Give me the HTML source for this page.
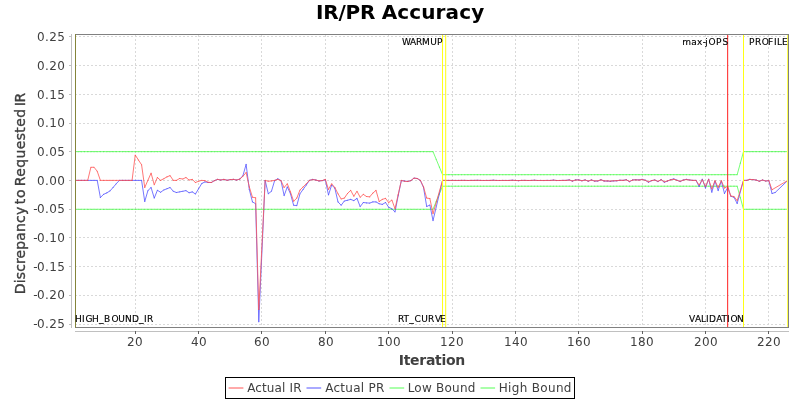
<!DOCTYPE html>
<html><head><meta charset="utf-8"><title>IR/PR Accuracy</title>
<style>html,body{margin:0;padding:0;background:#fff;width:800px;height:400px;overflow:hidden}</style></head>
<body>
<svg width="800" height="400" viewBox="0 0 800 400" style="position:absolute;left:0;top:0;display:block">
<rect x="0" y="0" width="800" height="400" fill="#ffffff"/>
<g stroke="#c0c0c0" stroke-width="1" stroke-dasharray="2,2" shape-rendering="crispEdges" opacity="0.6"><line x1="75.0" y1="324.5" x2="788.0" y2="324.5"/><line x1="75.0" y1="295.5" x2="788.0" y2="295.5"/><line x1="75.0" y1="266.5" x2="788.0" y2="266.5"/><line x1="75.0" y1="237.5" x2="788.0" y2="237.5"/><line x1="75.0" y1="209.5" x2="788.0" y2="209.5"/><line x1="75.0" y1="180.5" x2="788.0" y2="180.5"/><line x1="75.0" y1="151.5" x2="788.0" y2="151.5"/><line x1="75.0" y1="123.5" x2="788.0" y2="123.5"/><line x1="75.0" y1="94.5" x2="788.0" y2="94.5"/><line x1="75.0" y1="65.5" x2="788.0" y2="65.5"/><line x1="75.0" y1="36.5" x2="788.0" y2="36.5"/><line x1="135.5" y1="35.0" x2="135.5" y2="327.0"/><line x1="198.5" y1="35.0" x2="198.5" y2="327.0"/><line x1="261.5" y1="35.0" x2="261.5" y2="327.0"/><line x1="325.5" y1="35.0" x2="325.5" y2="327.0"/><line x1="388.5" y1="35.0" x2="388.5" y2="327.0"/><line x1="452.5" y1="35.0" x2="452.5" y2="327.0"/><line x1="515.5" y1="35.0" x2="515.5" y2="327.0"/><line x1="578.5" y1="35.0" x2="578.5" y2="327.0"/><line x1="642.5" y1="35.0" x2="642.5" y2="327.0"/><line x1="705.5" y1="35.0" x2="705.5" y2="327.0"/><line x1="768.5" y1="35.0" x2="768.5" y2="327.0"/></g>
<defs>
<marker id="mr" markerWidth="2" markerHeight="2" refX="1" refY="1" markerUnits="userSpaceOnUse"><circle cx="1" cy="1" r="0.62" fill="#ff4040" fill-opacity="0.55"/></marker>
<marker id="mb" markerWidth="2" markerHeight="2" refX="1" refY="1" markerUnits="userSpaceOnUse"><circle cx="1" cy="1" r="0.62" fill="#4040ff" fill-opacity="0.55"/></marker>
<marker id="mg" markerWidth="2" markerHeight="2" refX="1" refY="1" markerUnits="userSpaceOnUse"><circle cx="1" cy="1" r="0.62" fill="#30f030" fill-opacity="0.55"/></marker>
<clipPath id="cp"><rect x="75.5" y="34.5" width="713" height="293"/></clipPath>
</defs>
<g fill="none" stroke-width="1" stroke-linejoin="bevel" stroke-opacity="0.8" clip-path="url(#cp)">
<path d="M75.05,151.65 L78.22,151.65 L81.38,151.65 L84.55,151.65 L87.72,151.65 L90.89,151.65 L94.06,151.65 L97.22,151.65 L100.39,151.65 L103.56,151.65 L106.73,151.65 L109.90,151.65 L113.06,151.65 L116.23,151.65 L119.40,151.65 L122.57,151.65 L125.74,151.65 L128.90,151.65 L132.07,151.65 L135.24,151.65 L138.41,151.65 L141.58,151.65 L144.74,151.65 L147.91,151.65 L151.08,151.65 L154.25,151.65 L157.42,151.65 L160.58,151.65 L163.75,151.65 L166.92,151.65 L170.09,151.65 L173.26,151.65 L176.42,151.65 L179.59,151.65 L182.76,151.65 L185.93,151.65 L189.10,151.65 L192.26,151.65 L195.43,151.65 L198.60,151.65 L201.77,151.65 L204.94,151.65 L208.10,151.65 L211.27,151.65 L214.44,151.65 L217.61,151.65 L220.78,151.65 L223.94,151.65 L227.11,151.65 L230.28,151.65 L233.45,151.65 L236.62,151.65 L239.78,151.65 L242.95,151.65 L246.12,151.65 L249.29,151.65 L252.46,151.65 L255.62,151.65 L258.79,151.65 L261.96,151.65 L265.13,151.65 L268.30,151.65 L271.46,151.65 L274.63,151.65 L277.80,151.65 L280.97,151.65 L284.14,151.65 L287.30,151.65 L290.47,151.65 L293.64,151.65 L296.81,151.65 L299.98,151.65 L303.14,151.65 L306.31,151.65 L309.48,151.65 L312.65,151.65 L315.82,151.65 L318.98,151.65 L322.15,151.65 L325.32,151.65 L328.49,151.65 L331.66,151.65 L334.82,151.65 L337.99,151.65 L341.16,151.65 L344.33,151.65 L347.50,151.65 L350.66,151.65 L353.83,151.65 L357.00,151.65 L360.17,151.65 L363.34,151.65 L366.50,151.65 L369.67,151.65 L372.84,151.65 L376.01,151.65 L379.18,151.65 L382.34,151.65 L385.51,151.65 L388.68,151.65 L391.85,151.65 L395.02,151.65 L398.18,151.65 L401.35,151.65 L404.52,151.65 L407.69,151.65 L410.86,151.65 L414.02,151.65 L417.19,151.65 L420.36,151.65 L423.53,151.65 L426.70,151.65 L429.86,151.65 L433.03,151.65 L436.20,159.33 L439.37,167.01 L442.54,174.69 L445.70,174.69 L448.87,174.69 L452.04,174.69 L455.21,174.69 L458.38,174.69 L461.54,174.69 L464.71,174.69 L467.88,174.69 L471.05,174.69 L474.22,174.69 L477.38,174.69 L480.55,174.69 L483.72,174.69 L486.89,174.69 L490.06,174.69 L493.22,174.69 L496.39,174.69 L499.56,174.69 L502.73,174.69 L505.90,174.69 L509.06,174.69 L512.23,174.69 L515.40,174.69 L518.57,174.69 L521.74,174.69 L524.90,174.69 L528.07,174.69 L531.24,174.69 L534.41,174.69 L537.58,174.69 L540.74,174.69 L543.91,174.69 L547.08,174.69 L550.25,174.69 L553.42,174.69 L556.58,174.69 L559.75,174.69 L562.92,174.69 L566.09,174.69 L569.26,174.69 L572.42,174.69 L575.59,174.69 L578.76,174.69 L581.93,174.69 L585.10,174.69 L588.26,174.69 L591.43,174.69 L594.60,174.69 L597.77,174.69 L600.94,174.69 L604.10,174.69 L607.27,174.69 L610.44,174.69 L613.61,174.69 L616.78,174.69 L619.94,174.69 L623.11,174.69 L626.28,174.69 L629.45,174.69 L632.62,174.69 L635.78,174.69 L638.95,174.69 L642.12,174.69 L645.29,174.69 L648.46,174.69 L651.62,174.69 L654.79,174.69 L657.96,174.69 L661.13,174.69 L664.30,174.69 L667.46,174.69 L670.63,174.69 L673.80,174.69 L676.97,174.69 L680.14,174.69 L683.30,174.69 L686.47,174.69 L689.64,174.69 L692.81,174.69 L695.98,174.69 L699.14,174.69 L702.31,174.69 L705.48,174.69 L708.65,174.69 L711.82,174.69 L714.98,174.69 L718.15,174.69 L721.32,174.69 L724.49,174.69 L727.66,174.69 L730.82,174.69 L733.99,174.69 L737.16,174.69 L740.33,163.17 L743.50,151.65 L746.66,151.65 L749.83,151.65 L753.00,151.65 L756.17,151.65 L759.34,151.65 L762.50,151.65 L765.67,151.65 L768.84,151.65 L772.01,151.65 L775.18,151.65 L778.34,151.65 L781.51,151.65 L784.68,151.65 L787.85,151.65" stroke="#55ff55" marker-start="url(#mg)" marker-mid="url(#mg)" marker-end="url(#mg)"/>
<path d="M75.05,209.25 L78.22,209.25 L81.38,209.25 L84.55,209.25 L87.72,209.25 L90.89,209.25 L94.06,209.25 L97.22,209.25 L100.39,209.25 L103.56,209.25 L106.73,209.25 L109.90,209.25 L113.06,209.25 L116.23,209.25 L119.40,209.25 L122.57,209.25 L125.74,209.25 L128.90,209.25 L132.07,209.25 L135.24,209.25 L138.41,209.25 L141.58,209.25 L144.74,209.25 L147.91,209.25 L151.08,209.25 L154.25,209.25 L157.42,209.25 L160.58,209.25 L163.75,209.25 L166.92,209.25 L170.09,209.25 L173.26,209.25 L176.42,209.25 L179.59,209.25 L182.76,209.25 L185.93,209.25 L189.10,209.25 L192.26,209.25 L195.43,209.25 L198.60,209.25 L201.77,209.25 L204.94,209.25 L208.10,209.25 L211.27,209.25 L214.44,209.25 L217.61,209.25 L220.78,209.25 L223.94,209.25 L227.11,209.25 L230.28,209.25 L233.45,209.25 L236.62,209.25 L239.78,209.25 L242.95,209.25 L246.12,209.25 L249.29,209.25 L252.46,209.25 L255.62,209.25 L258.79,209.25 L261.96,209.25 L265.13,209.25 L268.30,209.25 L271.46,209.25 L274.63,209.25 L277.80,209.25 L280.97,209.25 L284.14,209.25 L287.30,209.25 L290.47,209.25 L293.64,209.25 L296.81,209.25 L299.98,209.25 L303.14,209.25 L306.31,209.25 L309.48,209.25 L312.65,209.25 L315.82,209.25 L318.98,209.25 L322.15,209.25 L325.32,209.25 L328.49,209.25 L331.66,209.25 L334.82,209.25 L337.99,209.25 L341.16,209.25 L344.33,209.25 L347.50,209.25 L350.66,209.25 L353.83,209.25 L357.00,209.25 L360.17,209.25 L363.34,209.25 L366.50,209.25 L369.67,209.25 L372.84,209.25 L376.01,209.25 L379.18,209.25 L382.34,209.25 L385.51,209.25 L388.68,209.25 L391.85,209.25 L395.02,209.25 L398.18,209.25 L401.35,209.25 L404.52,209.25 L407.69,209.25 L410.86,209.25 L414.02,209.25 L417.19,209.25 L420.36,209.25 L423.53,209.25 L426.70,209.25 L429.86,209.25 L433.03,209.25 L436.20,201.57 L439.37,193.89 L442.54,186.21 L445.70,186.21 L448.87,186.21 L452.04,186.21 L455.21,186.21 L458.38,186.21 L461.54,186.21 L464.71,186.21 L467.88,186.21 L471.05,186.21 L474.22,186.21 L477.38,186.21 L480.55,186.21 L483.72,186.21 L486.89,186.21 L490.06,186.21 L493.22,186.21 L496.39,186.21 L499.56,186.21 L502.73,186.21 L505.90,186.21 L509.06,186.21 L512.23,186.21 L515.40,186.21 L518.57,186.21 L521.74,186.21 L524.90,186.21 L528.07,186.21 L531.24,186.21 L534.41,186.21 L537.58,186.21 L540.74,186.21 L543.91,186.21 L547.08,186.21 L550.25,186.21 L553.42,186.21 L556.58,186.21 L559.75,186.21 L562.92,186.21 L566.09,186.21 L569.26,186.21 L572.42,186.21 L575.59,186.21 L578.76,186.21 L581.93,186.21 L585.10,186.21 L588.26,186.21 L591.43,186.21 L594.60,186.21 L597.77,186.21 L600.94,186.21 L604.10,186.21 L607.27,186.21 L610.44,186.21 L613.61,186.21 L616.78,186.21 L619.94,186.21 L623.11,186.21 L626.28,186.21 L629.45,186.21 L632.62,186.21 L635.78,186.21 L638.95,186.21 L642.12,186.21 L645.29,186.21 L648.46,186.21 L651.62,186.21 L654.79,186.21 L657.96,186.21 L661.13,186.21 L664.30,186.21 L667.46,186.21 L670.63,186.21 L673.80,186.21 L676.97,186.21 L680.14,186.21 L683.30,186.21 L686.47,186.21 L689.64,186.21 L692.81,186.21 L695.98,186.21 L699.14,186.21 L702.31,186.21 L705.48,186.21 L708.65,186.21 L711.82,186.21 L714.98,186.21 L718.15,186.21 L721.32,186.21 L724.49,186.21 L727.66,186.21 L730.82,186.21 L733.99,186.21 L737.16,186.21 L740.33,197.73 L743.50,209.25 L746.66,209.25 L749.83,209.25 L753.00,209.25 L756.17,209.25 L759.34,209.25 L762.50,209.25 L765.67,209.25 L768.84,209.25 L772.01,209.25 L775.18,209.25 L778.34,209.25 L781.51,209.25 L784.68,209.25 L787.85,209.25" stroke="#55ff55" marker-start="url(#mg)" marker-mid="url(#mg)" marker-end="url(#mg)"/>
<path d="M75.05,180.38 L78.22,180.38 L81.38,180.38 L84.55,180.38 L87.72,180.38 L90.89,180.38 L94.06,180.38 L97.22,180.38 L100.39,197.50 L103.56,194.38 L106.73,192.88 L109.90,191.00 L113.06,187.50 L116.23,183.75 L119.40,180.38 L122.57,180.38 L125.74,180.38 L128.90,180.38 L132.07,180.38 L135.24,180.38 L138.41,180.38 L141.58,180.38 L144.74,201.50 L147.91,190.62 L151.08,187.50 L154.25,198.12 L157.42,190.25 L160.58,192.25 L163.75,190.00 L166.92,188.75 L170.09,187.50 L173.26,191.25 L176.42,192.50 L179.59,191.88 L182.76,191.25 L185.93,190.62 L189.10,192.75 L192.26,191.88 L195.43,194.00 L198.60,188.75 L201.77,183.50 L204.94,181.88 L208.10,182.50 L211.27,182.50 L214.44,180.62 L217.61,179.38 L220.78,180.00 L223.94,179.38 L227.11,180.25 L230.28,179.62 L233.45,179.38 L236.62,180.00 L239.78,179.12 L242.95,175.62 L246.12,164.38 L249.29,189.38 L252.46,201.88 L255.62,203.75 L258.79,321.80 L265.13,180.38 L268.30,193.75 L271.46,191.25 L274.63,180.62 L277.80,178.75 L280.97,180.62 L284.14,195.62 L287.30,186.88 L290.47,193.75 L293.64,205.25 L296.81,205.62 L299.98,193.75 L303.14,189.38 L306.31,185.00 L309.48,180.38 L312.65,179.38 L315.82,180.00 L318.98,181.00 L322.15,180.62 L325.32,179.75 L328.49,195.00 L331.66,185.00 L334.82,188.12 L337.99,201.88 L341.16,205.25 L344.33,201.00 L347.50,200.25 L350.66,199.38 L353.83,200.62 L357.00,198.38 L360.17,206.62 L363.34,202.50 L366.50,202.88 L369.67,203.12 L372.84,201.88 L376.01,201.88 L379.18,203.75 L382.34,204.38 L385.51,202.50 L388.68,207.25 L391.85,208.75 L395.02,211.88 L398.18,195.62 L401.35,180.62 L404.52,181.00 L407.69,181.50 L410.86,180.62 L414.02,178.12 L417.19,178.50 L420.36,180.38 L423.53,187.50 L426.70,206.50 L429.86,205.00 L433.03,220.62 L442.54,180.38 L445.70,180.41 L448.87,180.46 L452.04,180.43 L455.21,180.46 L458.38,180.47 L461.54,180.39 L464.71,180.38 L467.88,180.50 L471.05,180.42 L474.22,180.41 L477.38,180.27 L480.55,180.45 L483.72,180.50 L486.89,180.45 L490.06,180.47 L493.22,180.21 L496.39,180.47 L499.56,180.50 L502.73,180.45 L505.90,180.48 L509.06,180.47 L512.23,180.21 L515.40,180.49 L518.57,180.63 L521.74,180.42 L524.90,180.38 L528.07,180.50 L531.24,180.45 L534.41,180.21 L537.58,180.50 L540.74,180.48 L543.91,180.51 L547.08,180.43 L550.25,180.49 L553.42,180.09 L556.58,180.51 L559.75,180.50 L562.92,180.39 L566.09,180.40 L569.26,179.85 L572.42,181.17 L575.59,179.85 L578.76,179.85 L581.93,180.81 L585.10,179.85 L588.26,181.29 L591.43,179.85 L594.60,181.17 L597.77,181.05 L600.94,179.69 L604.10,181.06 L607.27,181.06 L610.44,181.34 L613.61,180.93 L616.78,180.79 L619.94,180.24 L623.11,180.38 L626.28,179.69 L629.45,181.75 L632.62,179.96 L635.78,179.69 L638.95,179.96 L642.12,179.28 L645.29,180.24 L648.46,182.30 L651.62,180.65 L654.79,179.96 L657.96,181.61 L661.13,179.55 L664.30,182.30 L667.46,181.06 L670.63,179.69 L673.80,178.86 L676.97,180.24 L680.14,181.61 L683.30,179.96 L686.47,179.28 L689.64,180.00 L692.81,180.38 L695.98,180.38 L699.14,186.50 L702.31,179.00 L705.48,188.12 L708.65,179.00 L711.82,192.25 L714.98,181.00 L718.15,190.62 L721.32,181.00 L724.49,193.50 L727.66,187.50 L730.82,196.25 L733.99,197.25 L737.16,203.50 L743.50,180.38 L746.66,180.38 L749.83,179.38 L753.00,179.62 L756.17,180.00 L759.34,181.25 L762.50,180.00 L765.67,181.00 L768.84,180.62 L772.01,193.50 L775.18,192.50 L787.85,180.38" stroke="#5555ff" marker-start="url(#mb)" marker-mid="url(#mb)" marker-end="url(#mb)"/>
<path d="M75.05,180.38 L78.22,180.38 L81.38,180.38 L84.55,180.38 L87.72,180.38 L90.89,167.25 L94.06,167.25 L97.22,171.25 L100.39,180.38 L103.56,180.38 L106.73,180.38 L109.90,180.38 L113.06,180.38 L116.23,180.38 L119.40,180.38 L122.57,180.38 L125.74,180.38 L128.90,180.38 L132.07,180.38 L135.24,155.00 L138.41,160.00 L141.58,164.75 L144.74,187.50 L147.91,180.25 L151.08,173.12 L154.25,184.75 L157.42,177.50 L160.58,180.38 L163.75,178.75 L166.92,176.88 L170.09,175.62 L173.26,180.38 L176.42,180.38 L179.59,178.50 L182.76,179.00 L185.93,177.50 L189.10,180.00 L192.26,179.38 L195.43,182.50 L198.60,181.25 L201.77,180.38 L204.94,180.62 L208.10,182.25 L211.27,182.50 L214.44,180.62 L217.61,179.38 L220.78,180.00 L223.94,179.38 L227.11,180.25 L230.28,179.62 L233.45,179.38 L236.62,180.00 L239.78,179.12 L242.95,176.25 L246.12,172.50 L249.29,186.88 L252.46,197.25 L255.62,197.75 L258.79,309.50 L265.13,180.38 L268.30,181.25 L271.46,180.88 L274.63,180.38 L277.80,179.38 L280.97,180.62 L284.14,187.50 L287.30,183.75 L290.47,191.88 L293.64,201.25 L296.81,198.12 L299.98,190.00 L303.14,186.88 L306.31,183.75 L309.48,180.38 L312.65,179.62 L315.82,180.00 L318.98,180.88 L322.15,180.62 L325.32,179.38 L328.49,189.38 L331.66,183.75 L334.82,187.50 L337.99,193.75 L341.16,199.00 L344.33,198.12 L347.50,193.50 L350.66,190.38 L353.83,196.25 L357.00,191.25 L360.17,197.25 L363.34,194.38 L366.50,196.50 L369.67,196.88 L372.84,193.12 L376.01,190.38 L379.18,201.50 L382.34,199.38 L385.51,198.38 L388.68,202.50 L391.85,200.00 L395.02,208.75 L398.18,194.62 L401.35,180.38 L404.52,181.25 L407.69,181.50 L410.86,180.62 L414.02,178.12 L417.19,178.50 L420.36,180.38 L423.53,186.88 L426.70,198.12 L429.86,198.50 L433.03,213.75 L442.54,180.38 L445.70,180.42 L448.87,180.45 L452.04,180.44 L455.21,180.46 L458.38,180.46 L461.54,180.41 L464.71,180.40 L467.88,180.48 L471.05,180.43 L474.22,180.42 L477.38,180.33 L480.55,180.45 L483.72,180.48 L486.89,180.45 L490.06,180.46 L493.22,180.29 L496.39,180.46 L499.56,180.49 L502.73,180.45 L505.90,180.47 L509.06,180.47 L512.23,180.29 L515.40,180.47 L518.57,180.57 L521.74,180.43 L524.90,180.40 L528.07,180.49 L531.24,180.45 L534.41,180.29 L537.58,180.49 L540.74,180.47 L543.91,180.49 L547.08,180.44 L550.25,180.48 L553.42,180.21 L556.58,180.49 L559.75,180.49 L562.92,180.41 L566.09,180.42 L569.26,180.05 L572.42,180.93 L575.59,180.05 L578.76,180.05 L581.93,180.69 L585.10,180.05 L588.26,181.01 L591.43,180.05 L594.60,180.93 L597.77,180.85 L600.94,179.88 L604.10,180.88 L607.27,180.88 L610.44,181.07 L613.61,180.78 L616.78,180.68 L619.94,180.28 L623.11,180.38 L626.28,179.88 L629.45,181.38 L632.62,180.07 L635.78,179.88 L638.95,180.07 L642.12,179.57 L645.29,180.28 L648.46,181.78 L651.62,180.57 L654.79,180.07 L657.96,181.28 L661.13,179.78 L664.30,181.78 L667.46,180.88 L670.63,179.88 L673.80,179.28 L676.97,180.28 L680.14,181.28 L683.30,180.07 L686.47,179.57 L689.64,180.00 L692.81,180.38 L695.98,180.38 L699.14,185.00 L702.31,179.75 L705.48,186.50 L708.65,179.38 L711.82,189.00 L714.98,180.62 L718.15,187.50 L721.32,180.62 L724.49,188.12 L727.66,186.25 L730.82,196.00 L733.99,196.50 L737.16,200.62 L743.50,180.38 L746.66,180.38 L749.83,179.38 L753.00,179.62 L756.17,180.00 L759.34,181.25 L762.50,180.00 L765.67,181.00 L768.84,180.62 L772.01,189.75 L787.85,180.38" stroke="#ff5555" marker-start="url(#mr)" marker-mid="url(#mr)" marker-end="url(#mr)"/>
</g>
<line x1="442.54" y1="35.0" x2="442.54" y2="327.0" stroke="#ffff14" stroke-width="1"/>
<line x1="445.70" y1="35.0" x2="445.70" y2="327.0" stroke="#ffff14" stroke-width="1"/>
<line x1="727.66" y1="35.0" x2="727.66" y2="327.0" stroke="#ff2020" stroke-width="1"/>
<line x1="743.50" y1="35.0" x2="743.50" y2="327.0" stroke="#ffff14" stroke-width="1"/>
<line x1="787.50" y1="35.0" x2="787.50" y2="327.0" stroke="#ffff50" stroke-width="1"/>
<rect x="75.5" y="34.5" width="713" height="293" fill="none" stroke="#808080" stroke-width="1"/>
<line x1="75.5" y1="34.2" x2="75.5" y2="327.6" stroke="#84843a" stroke-width="1"/>
<g stroke="#c0c0c0" stroke-width="1" shape-rendering="crispEdges">
<line x1="71.5" y1="34" x2="71.5" y2="328"/>
<line x1="75" y1="331.5" x2="789" y2="331.5"/>
<line x1="69" y1="324.5" x2="72" y2="324.5"/>
<line x1="69" y1="295.5" x2="72" y2="295.5"/>
<line x1="69" y1="266.5" x2="72" y2="266.5"/>
<line x1="69" y1="237.5" x2="72" y2="237.5"/>
<line x1="69" y1="209.5" x2="72" y2="209.5"/>
<line x1="69" y1="180.5" x2="72" y2="180.5"/>
<line x1="69" y1="151.5" x2="72" y2="151.5"/>
<line x1="69" y1="123.5" x2="72" y2="123.5"/>
<line x1="69" y1="94.5" x2="72" y2="94.5"/>
<line x1="69" y1="65.5" x2="72" y2="65.5"/>
<line x1="69" y1="36.5" x2="72" y2="36.5"/>
</g>
<g stroke="#606060" stroke-width="1" shape-rendering="crispEdges">
<line x1="135.5" y1="331" x2="135.5" y2="334"/>
<line x1="198.5" y1="331" x2="198.5" y2="334"/>
<line x1="261.5" y1="331" x2="261.5" y2="334"/>
<line x1="325.5" y1="331" x2="325.5" y2="334"/>
<line x1="388.5" y1="331" x2="388.5" y2="334"/>
<line x1="452.5" y1="331" x2="452.5" y2="334"/>
<line x1="515.5" y1="331" x2="515.5" y2="334"/>
<line x1="578.5" y1="331" x2="578.5" y2="334"/>
<line x1="642.5" y1="331" x2="642.5" y2="334"/>
<line x1="705.5" y1="331" x2="705.5" y2="334"/>
<line x1="768.5" y1="331" x2="768.5" y2="334"/>
</g>
<text y="19.2" font-family="DejaVu Sans, Liberation Sans, sans-serif" font-size="20" font-weight="bold" fill="#000"><tspan x="315.88" letter-spacing="-0.156">IR/PR</tspan> <tspan x="381.78" letter-spacing="0.104">Accuracy</tspan></text>
<g font-family="DejaVu Sans, Liberation Sans, sans-serif" font-size="12" fill="#404040">
<text x="65.4" y="327.9" text-anchor="end" letter-spacing="0.4"><tspan letter-spacing="-0.5">-</tspan>0.25</text>
<text x="65.4" y="298.9" text-anchor="end" letter-spacing="0.4"><tspan letter-spacing="-0.5">-</tspan>0.20</text>
<text x="65.4" y="270.9" text-anchor="end" letter-spacing="0.4"><tspan letter-spacing="-0.5">-</tspan>0.15</text>
<text x="65.4" y="241.8" text-anchor="end" letter-spacing="0.4"><tspan letter-spacing="-0.5">-</tspan>0.10</text>
<text x="65.4" y="212.8" text-anchor="end" letter-spacing="0.4"><tspan letter-spacing="-0.5">-</tspan>0.05</text>
<text x="65.4" y="184.8" text-anchor="end" letter-spacing="0.4">0.00</text>
<text x="65.4" y="155.8" text-anchor="end" letter-spacing="0.4">0.05</text>
<text x="65.4" y="126.8" text-anchor="end" letter-spacing="0.4">0.10</text>
<text x="65.4" y="98.8" text-anchor="end" letter-spacing="0.4">0.15</text>
<text x="65.4" y="69.8" text-anchor="end" letter-spacing="0.4">0.20</text>
<text x="65.4" y="40.9" text-anchor="end" letter-spacing="0.4">0.25</text>
<text x="127.0" y="345.85" letter-spacing="0.37">20</text>
<text x="191.1" y="345.85" letter-spacing="0.37">40</text>
<text x="254.1" y="345.85" letter-spacing="0.37">60</text>
<text x="318.1" y="345.85" letter-spacing="0.37">80</text>
<text x="377.1" y="345.85" letter-spacing="0.37">100</text>
<text x="440.1" y="345.85" letter-spacing="0.37">120</text>
<text x="504.1" y="345.85" letter-spacing="0.37">140</text>
<text x="567.0" y="345.85" letter-spacing="0.37">160</text>
<text x="630.0" y="345.85" letter-spacing="0.37">180</text>
<text x="694.0" y="345.85" letter-spacing="0.37">200</text>
<text x="757.0" y="345.85" letter-spacing="0.37">220</text>
</g>
<text x="398.8" y="364.75" font-family="DejaVu Sans, Liberation Sans, sans-serif" font-size="14" font-weight="bold" letter-spacing="-0.3" fill="#404040">Iteration</text>
<text transform="translate(25.3,0) rotate(-90)" font-family="DejaVu Sans, Liberation Sans, sans-serif" font-size="14" fill="#404040" stroke="#404040" stroke-width="0.35"><tspan x="-294.15" letter-spacing="0.127">Discrepancy</tspan> <tspan x="-204.25" letter-spacing="0.700">to</tspan> <tspan x="-186.15" letter-spacing="0.356">Requested</tspan> <tspan x="-106.15" letter-spacing="-0.375">IR</tspan></text>
<g font-family="DejaVu Sans, Liberation Sans, sans-serif" font-size="9" fill="#000" stroke="#000" stroke-width="0.14">
<text y="44.75" x="401.90 410.03 416.12 422.12 430.22 437.12">WARMUP</text>
<text y="44.75" x="682.18 691.36 696.94 702.66 705.15 708.39 716.12 722.51">max-jOPS</text>
<text y="44.75" x="749.12 755.12 761.64 768.12 774.12 777.12 782.12">PROFILE</text>
<text y="321.8" x="75.12 82.12 85.59 92.12 99.09 104.12 111.49 118.22 125.12 132.12 139.09 144.12 147.12">HIGH_BOUND_IR</text>
<text y="321.8" x="398.12 403.53 409.19 414.55 421.22 428.12 434.99 440.12">RT_CURVE</text>
<text y="321.8" x="689.03 694.93 701.12 706.12 709.12 716.13 721.43 727.12 730.59 737.12">VALIDATION</text>
</g>
<rect x="225.5" y="377.5" width="349" height="21" fill="#fff" stroke="#000" stroke-width="1"/>
<g stroke-width="1">
<line x1="228.6" y1="388" x2="243.4" y2="388" stroke="#ff5555"/>
<line x1="306.5" y1="388" x2="321.2" y2="388" stroke="#5555ff"/>
<line x1="389.5" y1="388" x2="404.2" y2="388" stroke="#55ff55"/>
<line x1="480.5" y1="388" x2="495.1" y2="388" stroke="#55ff55"/>
</g>
<g font-family="DejaVu Sans, Liberation Sans, sans-serif" font-size="12" fill="#404040">
<text x="247.18" y="391.8" letter-spacing="0.131">Actual IR</text>
<text x="325.18" y="391.8" letter-spacing="0.288">Actual PR</text>
<text x="407.68" y="391.8" letter-spacing="0.228">Low Bound</text>
<text x="498.78" y="391.8" letter-spacing="0.319">High Bound</text>
</g>
</svg>
</body></html>
